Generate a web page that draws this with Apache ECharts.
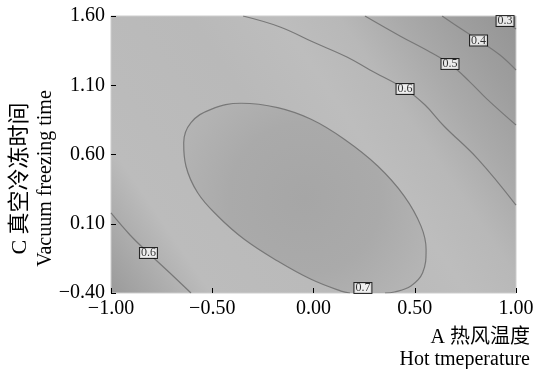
<!DOCTYPE html>
<html>
<head>
<meta charset="utf-8">
<script src="https://cdn.jsdelivr.net/npm/echarts@6/dist/echarts.min.js"></script>
<style>
  html, body { margin: 0; padding: 0; background: #fff; }
  #chart { width: 534px; height: 369px; }
</style>
</head>
<body>
<div id="chart"></div>
<script>
// contour lines, [A, C]
const contour07 = [
  [0.180, -0.400], [0.136, -0.386], [-0.012, -0.301], [-0.177, -0.169], [-0.342, -0.012],
  [-0.473, 0.156], [-0.572, 0.324], [-0.630, 0.517], [-0.641, 0.685], [-0.605, 0.830],
  [-0.506, 0.926], [-0.358, 0.970], [-0.177, 0.938], [-0.012, 0.854], [0.152, 0.710],
  [0.317, 0.517], [0.448, 0.300], [0.531, 0.083], [0.556, -0.085], [0.539, -0.254],
  [0.481, -0.349], [0.399, -0.393], [0.353, -0.400]
];
const contour06Upper = [
  [-0.348, 1.600], [-0.165, 1.521], [-0.002, 1.412], [0.165, 1.304], [0.279, 1.210],
  [0.452, 1.073], [0.551, 0.957], [0.644, 0.806], [0.812, 0.567], [1.000, 0.235]
];
const contour06Lower = [
  [-1.000, 0.178], [-0.906, 0.019], [-0.815, -0.111], [-0.709, -0.256], [-0.605, -0.400]
];
const contour05 = [
  [0.254, 1.600], [0.427, 1.456], [0.575, 1.340], [0.674, 1.253], [0.773, 1.123],
  [0.857, 1.000], [1.000, 0.813]
];
const contour04 = [
  [0.635, 1.600], [0.723, 1.513], [0.822, 1.419], [0.921, 1.318], [1.000, 1.210]
];
const contour03 = [
  [0.906, 1.600], [0.946, 1.560], [1.000, 1.506]
];
// contour labels [A, C, level]
const levelLabels = [
  [0.946, 1.564, 0.3],
  [0.815, 1.423, 0.4],
  [0.674, 1.253, 0.5],
  [0.452, 1.073, 0.6],
  [-0.815, -0.111, 0.6],
  [0.244, -0.364, 0.7]
];

const SERIF = "'Liberation Serif', 'DejaVu Serif', 'Noto Sans CJK SC', serif";

const chart = echarts.init(document.getElementById('chart'));

function tickText(v) {
  return v.toFixed(2).replace('-', '\u2212');
}

function contourSeries(data) {
  return {
    type: 'line',
    data: data,
    smooth: 0.4,
    showSymbol: false,
    silent: true,
    z: 3,
    lineStyle: { color: '#787878', width: 1.2 }
  };
}

const option = {
  animation: false,
  grid: {
    left: 111,
    right: 18,
    top: 16,
    bottom: 76,
    outerBoundsMode: 'none',
    containLabel: false,
    show: true,
    borderColor: '#cdcdcd',
    borderWidth: 1,
    backgroundColor: {
      type: 'linear', x: 1, y: 0, x2: 0, y2: 1,
      colorStops: [
        { offset: 0, color: '#949494' },
        { offset: 0.1, color: '#9e9e9e' },
        { offset: 0.2, color: '#aaaaaa' },
        { offset: 0.3, color: '#b8b8b8' },
        { offset: 0.4, color: '#bdbdbd' },
        { offset: 0.55, color: '#b9b9b9' },
        { offset: 0.75, color: '#bbbbbb' },
        { offset: 0.83, color: '#bcbcbc' },
        { offset: 0.92, color: '#aaaaaa' },
        { offset: 1, color: '#9a9a9a' }
      ]
    }
  },
  xAxis: {
    type: 'value',
    min: -1,
    max: 1,
    interval: 0.5,
    axisLine: { show: false, onZero: false },
    axisTick: { inside: true, length: 5, lineStyle: { color: '#000' } },
    splitLine: { show: false },
    axisLabel: { color: '#000', fontSize: 20, fontFamily: SERIF, margin: 6, formatter: tickText },
    name: 'A 热风温度\nHot tmeperature',
    nameLocation: 'end',
    nameGap: 14,
    nameMoveOverlap: false,
    nameTextStyle: {
      color: '#000', fontSize: 20, fontFamily: SERIF, lineHeight: 22,
      align: 'right', verticalAlign: 'top', padding: [34, 0, 0, 0]
    }
  },
  yAxis: {
    type: 'value',
    min: -0.4,
    max: 1.6,
    interval: 0.5,
    axisLine: { show: false, onZero: false },
    axisTick: { inside: true, length: 5, lineStyle: { color: '#000' } },
    splitLine: { show: false },
    axisLabel: { color: '#000', fontSize: 20, fontFamily: SERIF, margin: 6, formatter: tickText },
    name: '{cn|C 真空冷冻时间}\n{en|Vacuum freezing time}',
    nameLocation: 'middle',
    nameRotate: 90,
    nameGap: 53,
    nameMoveOverlap: false,
    nameTextStyle: {
      color: '#000', fontFamily: SERIF, padding: [0, 48, 0, 0],
      rich: {
        cn: { fontSize: 22, lineHeight: 25, fontFamily: SERIF, color: '#000' },
        en: { fontSize: 20, lineHeight: 25, fontFamily: SERIF, color: '#000' }
      }
    }
  },
  series: [
    {
      // darker centre inside the 0.7 contour
      type: 'custom',
      data: [[0, 0.6]],
      silent: true,
      clip: true,
      z: 2,
      renderItem: function (params, api) {
        return {
          type: 'polygon',
          shape: { points: contour07.map(function (p) { return api.coord(p); }), smooth: 0.4 },
          style: {
            fill: {
              type: 'radial', x: 0.5, y: 0.5, r: 0.8,
              colorStops: [
                { offset: 0, color: '#a6a6a6' },
                { offset: 0.5, color: '#aaaaaa' },
                { offset: 0.8, color: '#b2b2b2' },
                { offset: 1, color: '#b7b7b7' }
              ]
            }
          }
        };
      }
    },
    contourSeries(contour07),
    contourSeries(contour06Upper),
    contourSeries(contour06Lower),
    contourSeries(contour05),
    contourSeries(contour04),
    contourSeries(contour03),
    {
      type: 'scatter',
      data: levelLabels,
      symbol: 'rect',
      symbolSize: 1,
      itemStyle: { color: 'rgba(0,0,0,0)' },
      silent: true,
      z: 5,
      label: {
        show: true,
        position: 'inside',
        formatter: function (p) { return p.value[2].toFixed(1); },
        color: '#000',
        fontSize: 12,
        lineHeight: 10,
        fontFamily: SERIF,
        backgroundColor: '#fff',
        borderColor: '#000',
        borderWidth: 1,
        padding: [0, 1, 0, 1]
      }
    }
  ]
};

chart.setOption(option);
</script>
</body>
</html>
